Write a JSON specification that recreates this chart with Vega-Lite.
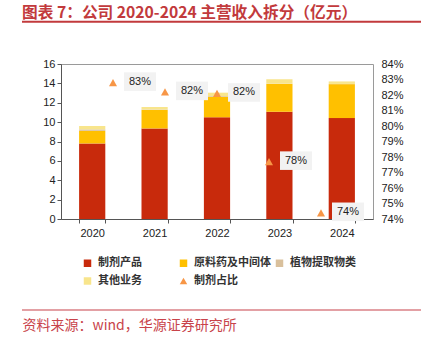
{
  "$schema": "https://vega.github.io/schema/vega-lite/v6.json",
  "width": 312,
  "height": 155,
  "autosize": {"type": "none"},
  "padding": {"left": 61, "top": 64, "right": 48, "bottom": 118},
  "background": "white",
  "config": {
    "view": {"stroke": "#9a9a9a", "strokeWidth": 1},
    "font": "Liberation Sans",
    "axis": {"labelFont": "Liberation Sans", "labelFontSize": 11, "labelColor": "#222", "grid": false}
  },
  "datasets": {
    "revenue": [
      {"year": "2020", "series": "制剂产品", "value": 7.8},
      {"year": "2020", "series": "原料药及中间体", "value": 1.3},
      {"year": "2020", "series": "植物提取物类", "value": 0.15},
      {"year": "2020", "series": "其他业务", "value": 0.35},
      {"year": "2021", "series": "制剂产品", "value": 9.35},
      {"year": "2021", "series": "原料药及中间体", "value": 1.9},
      {"year": "2021", "series": "植物提取物类", "value": 0.05},
      {"year": "2021", "series": "其他业务", "value": 0.26},
      {"year": "2022", "series": "制剂产品", "value": 10.5},
      {"year": "2022", "series": "原料药及中间体", "value": 2.1},
      {"year": "2022", "series": "植物提取物类", "value": 0.08},
      {"year": "2022", "series": "其他业务", "value": 0.36},
      {"year": "2023", "series": "制剂产品", "value": 11.07},
      {"year": "2023", "series": "原料药及中间体", "value": 2.86},
      {"year": "2023", "series": "植物提取物类", "value": 0.03},
      {"year": "2023", "series": "其他业务", "value": 0.46},
      {"year": "2024", "series": "制剂产品", "value": 10.42},
      {"year": "2024", "series": "原料药及中间体", "value": 3.5},
      {"year": "2024", "series": "植物提取物类", "value": 0.02},
      {"year": "2024", "series": "其他业务", "value": 0.26}
    ],
    "ratio": [
      {"year": "2020", "series": "制剂占比", "ratio": 0.828},
      {"year": "2021", "series": "制剂占比", "ratio": 0.822},
      {"year": "2022", "series": "制剂占比", "ratio": 0.821},
      {"year": "2023", "series": "制剂占比", "ratio": 0.777},
      {"year": "2024", "series": "制剂占比", "ratio": 0.744}
    ]
  },
  "title": {
    "text": "图表 7：公司 2020-2024 主营收入拆分（亿元）",
    "anchor": "start",
    "frame": "group",
    "dx": -39,
    "offset": -1,
    "font": "Noto Sans CJK SC",
    "fontSize": 15.7,
    "fontWeight": "bold",
    "color": "#C23A3C"
  },
  "layer": [
    {
      "data": {"name": "revenue"},
      "transform": [
        {"calculate": "indexof(['制剂产品','原料药及中间体','植物提取物类','其他业务'], datum.series)", "as": "stackOrder"}
      ],
      "mark": {"type": "bar"},
      "encoding": {
        "x": {
          "field": "year",
          "type": "ordinal",
          "scale": {"paddingInner": 0.58, "paddingOuter": 0.29},
          "axis": {
            "labelAngle": 0,
            "labelPadding": 4,
            "tickBand": "extent",
            "tickSize": 4,
            "tickColor": "#555",
            "domainColor": "#555",
            "title": "资料来源：wind，华源证券研究所",
            "titleX": -39,
            "titleY": 106,
            "titleAlign": "left",
            "titleAnchor": "start",
            "titleBaseline": "middle",
            "titleFont": "Noto Sans CJK SC",
            "titleFontSize": 14,
            "titleFontWeight": "normal",
            "titleColor": "#C8434A"
          }
        },
        "y": {
          "field": "value",
          "type": "quantitative",
          "stack": "zero",
          "scale": {"domain": [0, 16], "nice": false},
          "axis": {
            "values": [0, 2, 4, 6, 8, 10, 12, 14, 16],
            "title": null,
            "tickSize": 4,
            "labelPadding": 2,
            "tickColor": "#555",
            "domainColor": "#555"
          }
        },
        "order": {"field": "stackOrder", "type": "quantitative", "sort": "ascending"},
        "color": {
          "field": "series",
          "type": "nominal",
          "scale": {
            "domain": ["制剂产品", "原料药及中间体", "植物提取物类", "其他业务", "制剂占比"],
            "range": ["#C82A0C", "#FFC000", "#D9C09C", "#F8E58C", "#F79646"]
          },
          "legend": {
            "title": null,
            "orient": "none",
            "direction": "horizontal",
            "legendX": 21,
            "legendY": 193.5,
            "columns": 3,
            "gridAlign": "all",
            "columnPadding": 3,
            "rowPadding": 6,
            "padding": 0,
            "symbolSize": 56,
            "labelOffset": 5,
            "labelFont": "Noto Sans CJK SC",
            "labelFontSize": 11,
            "labelFontWeight": "bold",
            "labelColor": "#333"
          }
        }
      }
    },
    {
      "data": {"name": "ratio"},
      "encoding": {
        "x": {"field": "year", "type": "ordinal", "scale": {"type": "point", "padding": 1}, "axis": null},
        "y": {
          "field": "ratio",
          "type": "quantitative",
          "scale": {"domain": [0.74, 0.84], "nice": false},
          "axis": {
            "orient": "right",
            "title": null,
            "format": ".0%",
            "values": [0.74, 0.75, 0.76, 0.77, 0.78, 0.79, 0.8, 0.81, 0.82, 0.83, 0.84],
            "ticks": false,
            "tickSize": 0,
            "domain": false,
            "labelPadding": 8
          }
        }
      },
      "layer": [
        {
          "mark": {"type": "point", "shape": "M-1,-0.58H1V0.58H-1Z", "size": 1024, "filled": true, "color": "#F2F2F2", "opacity": 1, "strokeWidth": 0, "xOffset": 27, "yOffset": -1}
        },
        {
          "mark": {"type": "point", "filled": true, "opacity": 1, "size": 64, "strokeWidth": 0},
          "encoding": {
            "color": {
              "field": "series",
              "type": "nominal",
              "scale": {
                "domain": ["制剂产品", "原料药及中间体", "植物提取物类", "其他业务", "制剂占比"],
                "range": ["#C82A0C", "#FFC000", "#D9C09C", "#F8E58C", "#F79646"]
              }
            },
            "shape": {
              "field": "series",
              "type": "nominal",
              "scale": {
                "domain": ["制剂产品", "原料药及中间体", "植物提取物类", "其他业务", "制剂占比"],
                "range": ["square", "square", "square", "square", "M0,-0.9L1,0.9L-1,0.9Z"]
              }
            }
          }
        },
        {
          "mark": {"type": "text", "dx": 27, "dy": -1, "align": "center", "baseline": "middle", "font": "Liberation Sans", "fontSize": 11, "color": "#222"},
          "encoding": {"text": {"field": "ratio", "type": "quantitative", "format": ".0%"}}
        }
      ]
    },
    {
      "data": {"values": [{}]},
      "mark": {"type": "rule", "color": "#C23A3C", "strokeWidth": 2},
      "encoding": {"x": {"value": -39}, "x2": {"value": 360}, "y": {"value": -42.3}}
    },
    {
      "data": {"values": [{}]},
      "mark": {"type": "rule", "color": "#C8434A", "strokeWidth": 1.2},
      "encoding": {"x": {"value": -39}, "x2": {"value": 360}, "y": {"value": 246}}
    }
  ],
  "resolve": {"scale": {"x": "independent", "y": "independent"}}
}
